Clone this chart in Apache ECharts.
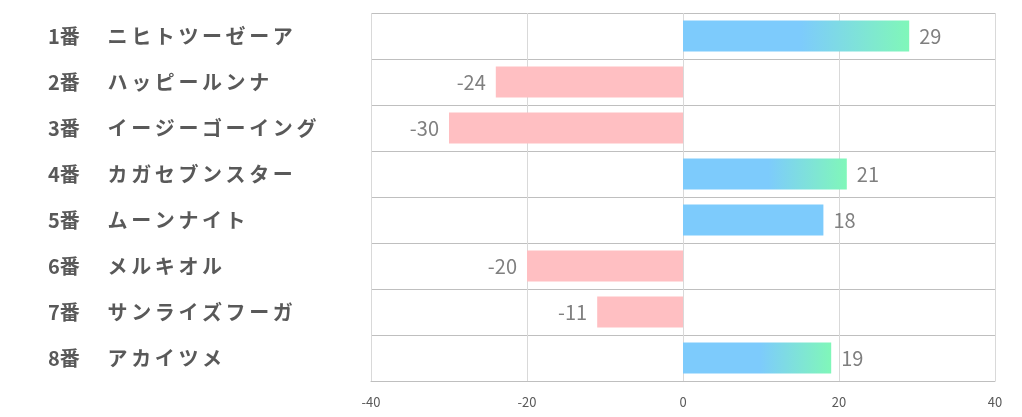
<!DOCTYPE html>
<html>
<head>
<meta charset="utf-8">
<script src="https://cdn.jsdelivr.net/npm/echarts@6/dist/echarts.min.js"></script>
<style>
  html, body { margin: 0; padding: 0; background: #fff; }
  #chart { width: 1022px; height: 417px; }
</style>
</head>
<body>
<div id="chart"></div>
<script>
const horseNames = [
  '1番　ニヒトツーゼーア',
  '2番　ハッピールンナ',
  '3番　イージーゴーイング',
  '4番　カガセブンスター',
  '5番　ムーンナイト',
  '6番　メルキオル',
  '7番　サンライズフーガ',
  '8番　アカイツメ'
]
const scores = [29, -24, -30, 21, 18, -20, -11, 19]
const xTicks = [-40, -20, 0, 20, 40]

const FONT = '"Noto Sans CJK JP", "Noto Sans", sans-serif'
const BLUE = '#7dcbfc'
const GREEN = '#80f7b9'
const PINK = '#ffbfc2'

const gradient = new echarts.graphic.LinearGradient(0, 0, 1, 0, [
  { offset: 0, color: BLUE },
  { offset: 0.52, color: BLUE },
  { offset: 1, color: GREEN }
])

const barData = scores.map((v) => ({
  value: v,
  itemStyle: { color: v < 0 ? PINK : v >= 19 ? gradient : BLUE },
  label: { position: v < 0 ? 'left' : 'right' }
}))

// wide spacing like the original font: pad each katakana a little
const formatName = (text) => {
  const [num, name] = text.split('　')
  const chars = Array.from(name).map((c) => `{c|${c}}`).join('')
  return `{n|${num}}{s|　}${chars}`
}

const labelText = { color: '#595959', fontSize: 20, fontWeight: 'bold', fontFamily: FONT }

const chart = echarts.init(document.getElementById('chart'))
chart.setOption({
  animation: false,
  grid: { left: 371, right: 27, top: 13, bottom: 36 },
  xAxis: {
    type: 'value',
    min: xTicks[0],
    max: xTicks[xTicks.length - 1],
    interval: 20,
    axisLine: { show: true, lineStyle: { color: '#bfbfbf' } },
    axisTick: { show: false },
    axisLabel: { margin: 15, color: '#595959', fontSize: 13, fontFamily: FONT },
    splitLine: { lineStyle: { color: '#d9d9d9' } }
  },
  yAxis: {
    type: 'category',
    inverse: true,
    data: horseNames,
    axisLine: { show: false },
    axisTick: { show: false },
    axisLabel: {
      align: 'left',
      margin: 323,
      formatter: formatName,
      rich: {
        n: { ...labelText, padding: [0, 1, 0, 0] },
        s: { ...labelText, width: 25 },
        c: { ...labelText, padding: [0, 1.8] }
      }
    },
    splitLine: { show: true, lineStyle: { color: '#bfbfbf' } }
  },
  series: [
    {
      type: 'bar',
      data: barData,
      barWidth: '67%',
      label: {
        show: true,
        distance: 10,
        color: '#7f7f7f',
        fontSize: 20,
        fontFamily: FONT
      }
    }
  ]
})
</script>
</body>
</html>
